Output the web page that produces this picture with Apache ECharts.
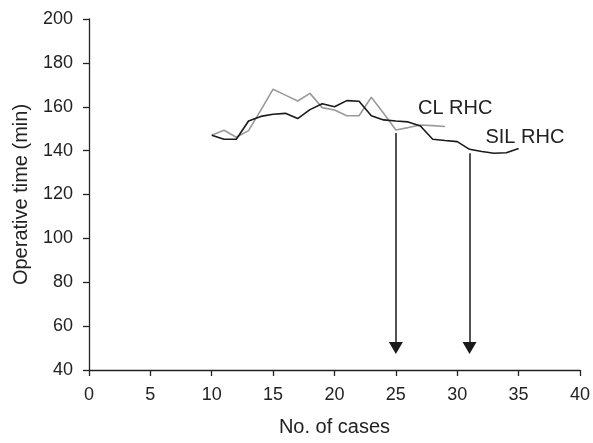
<!DOCTYPE html>
<html>
<head>
<meta charset="utf-8">
<script src="https://cdn.jsdelivr.net/npm/echarts@6/dist/echarts.min.js"></script>
<style>
  html, body { margin: 0; padding: 0; background: #fff; }
  #main { width: 593px; height: 443px; }
</style>
</head>
<body>
<div id="main"></div>
<script>
// data
var clCases = [10, 11, 12, 13, 14, 15, 16, 17, 18, 19, 20, 21, 22, 23, 24, 25, 26, 27, 28, 29];
var clTime = [147, 149.3, 146.1, 149.1, 158.5, 168, 165.3, 162.6, 166.1, 159.6, 158.5, 155.9, 155.9, 164.3, 157, 149.4, 150.5, 151.7, 151.4, 151];
var silCases = [10, 11, 12, 13, 14, 15, 16, 17, 18, 19, 20, 21, 22, 23, 24, 25, 26, 27, 28, 29, 30, 31, 32, 33, 34, 35];
var silTime = [147, 145.2, 145.2, 153.5, 155.6, 156.6, 157, 154.6, 158.7, 161.4, 160, 162.8, 162.5, 155.9, 154, 153.5, 153.1, 151.2, 145.2, 144.6, 144.1, 140.6, 139.6, 138.8, 139, 141];
var arrowX = [25, 31];
var arrowTop = [148, 138.8];
var arrowBottom = 47;
var labels = [
  { name: 'CL RHC', at: [26.8, 159.4] },
  { name: 'SIL RHC', at: [32.3, 146] }
];

var dom = document.getElementById('main');
var myChart = echarts.init(dom);

function pairs(xs, ys) {
    return xs.map(function (x, i) { return [x, ys[i]]; });
}

var fontName = 'Liberation Sans, Arial, sans-serif';
var tickText = { color: '#222', fontSize: 18, fontFamily: fontName };
var nameText = { color: '#222', fontSize: 20, fontFamily: fontName };

var option = {
    animation: false,
    grid: { left: 89, right: 13, top: 19, bottom: 73 },
    xAxis: {
        type: 'value',
        min: 0, max: 40, interval: 5,
        name: 'No. of cases',
        nameLocation: 'middle',
        nameGap: 47,
        nameTextStyle: nameText,
        axisLine: { onZero: false, lineStyle: { color: '#222', width: 1.3 } },
        axisTick: { length: 6, lineStyle: { color: '#222', width: 1.3 } },
        axisLabel: Object.assign({ margin: 16 }, tickText),
        splitLine: { show: false }
    },
    yAxis: {
        type: 'value',
        min: 40, max: 200, interval: 20,
        name: 'Operative time (min)',
        nameLocation: 'middle',
        nameGap: 58,
        nameTextStyle: nameText,
        axisLine: { show: true, onZero: false, lineStyle: { color: '#222', width: 1.3 } },
        axisTick: { show: true, length: 6, lineStyle: { color: '#222', width: 1.3 } },
        axisLabel: Object.assign({ margin: 16 }, tickText),
        splitLine: { show: false }
    },
    series: [
        {
            name: 'CL RHC',
            type: 'line',
            data: pairs(clCases, clTime),
            showSymbol: false,
            symbol: 'none',
            lineStyle: { color: '#9a9a9a', width: 1.6 },
            z: 2
        },
        {
            name: 'SIL RHC',
            type: 'line',
            data: pairs(silCases, silTime),
            showSymbol: false,
            symbol: 'none',
            lineStyle: { color: '#1a1a1a', width: 1.6 },
            z: 3,
            markLine: {
                silent: true,
                symbol: ['none', 'triangle'],
                symbolSize: [14, 12],
                symbolRotate: 180,
                label: { show: false },
                lineStyle: { color: '#1a1a1a', width: 1.5, type: 'solid' },
                data: arrowX.map(function (x, i) {
                    return [{ coord: [x, arrowTop[i]] }, { coord: [x, arrowBottom + 3] }];
                })
            },
            markPoint: {
                silent: true,
                symbol: 'circle',
                symbolSize: 0,
                label: {
                    show: true,
                    position: 'right',
                    distance: 0,
                    color: '#222',
                    fontSize: 20,
                    fontFamily: fontName,
                    formatter: function (p) { return p.name; }
                },
                data: labels.map(function (l) {
                    return { name: l.name, coord: l.at };
                })
            }
        }
    ]
};

if (option && typeof option === 'object') {
    myChart.setOption(option, true);
}
</script>
</body>
</html>
